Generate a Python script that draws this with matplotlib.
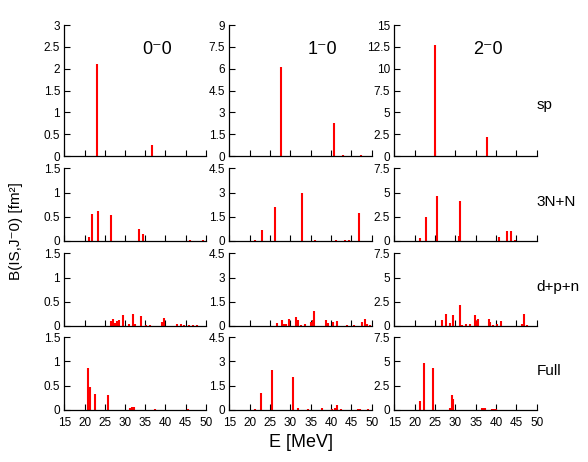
import matplotlib
matplotlib.use("Agg")
import matplotlib.pyplot as plt

plt.rcParams['font.family'] = ['Liberation Sans', 'DejaVu Sans']

# column titles (multipolarity) and row labels (model)
col_titles = ["0⁻0", "1⁻0", "2⁻0"]
row_labels = ["sp", "3N+N", "d+p+n", "Full"]

# y-axis limits per column (top row / other rows)
ymax_top = [3, 9, 15]
ymax_rest = [1.5, 4.5, 7.5]

# --- sp ---
e_sp_0 = [23.0, 36.8]
b_sp_0 = [2.1, 0.25]
e_sp_1 = [27.7, 40.7, 42.9, 47.3]
b_sp_1 = [6.1, 2.3, 0.05, 0.05]
e_sp_2 = [24.9, 37.9]
b_sp_2 = [12.7, 2.2]

# --- 3N+N ---
e_3n_0 = [21.0, 21.8, 23.3, 26.6, 33.5, 34.5, 46.1, 49.3]
b_3n_0 = [0.08, 0.55, 0.61, 0.53, 0.25, 0.15, 0.02, 0.01]
e_3n_1 = [21.3, 23.0, 26.2, 32.8, 36.1, 41.1, 43.4, 44.4, 46.8]
b_3n_1 = [0.05, 0.66, 2.09, 2.95, 0.08, 0.08, 0.08, 0.06, 1.73]
e_3n_2 = [21.2, 22.7, 25.4, 30.8, 31.1, 35.9, 40.7, 42.7, 43.8, 44.7]
b_3n_2 = [0.3, 2.48, 4.64, 0.48, 4.09, 0.03, 0.41, 1.03, 1.06, 0.15]

# --- d+p+n ---
e_dpn_0 = [26.6, 27.1, 27.6, 28.0, 28.5, 29.4, 31.1, 31.9, 32.4, 34.0,
           35.3, 36.2, 39.2, 39.7, 42.8, 43.9, 44.6, 45.8, 46.8, 47.8]
b_dpn_0 = [0.10, 0.15, 0.07, 0.10, 0.12, 0.23, 0.05, 0.25, 0.05, 0.21,
           0.03, 0.03, 0.08, 0.17, 0.05, 0.05, 0.02, 0.02, 0.02, 0.02]
e_dpn_1 = [26.7, 27.9, 28.4, 28.9, 29.6, 31.5, 31.8, 32.6, 33.6, 35.1, 35.5,
           35.9, 38.8, 39.2, 40.6, 41.5, 43.8, 45.6, 47.6, 48.4, 48.8, 49.5]
b_dpn_1 = [0.19, 0.37, 0.15, 0.10, 0.43, 0.56, 0.35, 0.08, 0.10, 0.25, 0.35,
           0.91, 0.37, 0.20, 0.27, 0.29, 0.05, 0.04, 0.27, 0.43, 0.15, 0.05]
e_dpn_2 = [26.6, 27.8, 28.7, 29.5, 31.1, 31.6, 32.6, 33.6, 34.9, 35.2,
           35.6, 38.2, 38.6, 39.2, 40.2, 41.2, 46.3, 46.9, 47.7]
b_dpn_2 = [0.62, 1.24, 0.30, 1.10, 2.17, 0.15, 0.20, 0.25, 1.14, 0.50,
           0.76, 0.69, 0.40, 0.15, 0.20, 0.48, 0.20, 1.20, 0.10]

# --- Full ---
e_full_0 = [20.9, 21.3, 22.7, 25.8, 31.2, 31.7, 32.3, 37.5, 45.7]
b_full_0 = [0.87, 0.47, 0.33, 0.31, 0.05, 0.06, 0.06, 0.01, 0.01]
e_full_1 = [21.3, 22.8, 25.6, 30.7, 31.9, 34.4, 37.9, 40.3, 40.9, 41.4,
            42.4, 46.7, 47.2, 49.2]
b_full_1 = [0.05, 1.07, 2.5, 2.06, 0.15, 0.03, 0.15, 0.06, 0.12, 0.33,
            0.05, 0.05, 0.06, 0.03]
e_full_2 = [21.2, 22.3, 24.5, 28.7, 29.3, 29.5, 31.8, 34.3, 36.5, 36.9,
            37.4, 39.0, 39.5, 40.0]
b_full_2 = [0.93, 4.89, 4.33, 0.25, 1.55, 1.1, 0.03, 0.03, 0.2, 0.2,
            0.25, 0.15, 0.15, 0.15]

data = [
    [(e_sp_0, b_sp_0), (e_sp_1, b_sp_1), (e_sp_2, b_sp_2)],
    [(e_3n_0, b_3n_0), (e_3n_1, b_3n_1), (e_3n_2, b_3n_2)],
    [(e_dpn_0, b_dpn_0), (e_dpn_1, b_dpn_1), (e_dpn_2, b_dpn_2)],
    [(e_full_0, b_full_0), (e_full_1, b_full_1), (e_full_2, b_full_2)],
]

fig = plt.figure(figsize=(5.88, 4.62), dpi=100)

lefts = [0.1094, 0.390, 0.6706]
widths = [0.2405, 0.2422, 0.2422]
bottoms = [0.6623, 0.4784, 0.2944, 0.1126]
heights = [0.2835, 0.1574, 0.1574, 0.1574]
label_y = [0.39, 0.54, 0.53, 0.54]

xticks = list(range(15, 51, 5))

for r in range(4):
    for c in range(3):
        ax = fig.add_axes([lefts[c], bottoms[r], widths[c], heights[r]])
        e, b = data[r][c]
        ax.vlines(e, 0, b, color="red", lw=1.5)
        ymax = ymax_top[c] if r == 0 else ymax_rest[c]
        n = 6 if r == 0 else 3
        ax.set_xlim(15, 50)
        ax.set_ylim(0, ymax)
        yt = [ymax * k / n for k in range(n + 1)]
        ax.set_yticks(yt)
        ax.set_yticklabels(["{:g}".format(round(t, 2)) for t in yt])
        ax.set_xticks(xticks)
        if r < 3:
            ax.set_xticklabels([])
        for s in ["top", "right"]:
            ax.spines[s].set_visible(False)
        for s in ["left", "bottom"]:
            ax.spines[s].set_linewidth(0.9)
        ax.tick_params(direction="in", length=4, width=0.8, labelsize=8.5)
        ax.tick_params(axis="x", pad=5)
        ax.tick_params(axis="y", pad=3)
        if r == 0:
            ax.text(0.655, 0.817, col_titles[c], transform=ax.transAxes,
                    ha="center", va="center", fontsize=13)
        if c == 2:
            ax.text(1.0, label_y[r], row_labels[r], transform=ax.transAxes,
                    ha="left", va="center", fontsize=11)
        if r == 3 and c == 1:
            ax.set_xlabel("E [MeV]", fontsize=13, labelpad=4)

fig.text(0.028, 0.5, "B(IS,J⁻0) [fm²]", rotation=90, ha="center", va="center", fontsize=11)

plt.savefig("out.png", dpi=100)
